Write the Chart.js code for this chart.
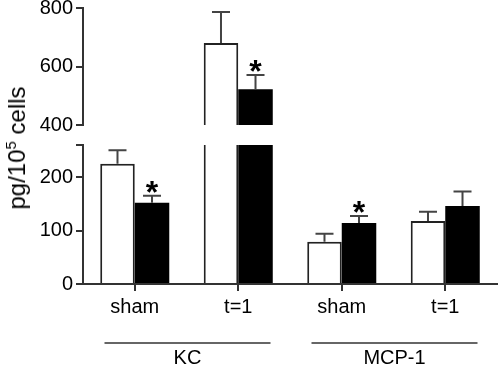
<!DOCTYPE html>
<html>
<head>
<meta charset="utf-8">
<script src="https://cdn.jsdelivr.net/npm/chart.js@4/dist/chart.umd.min.js"></script>
<style>
    body { margin: 0; background: #fff; }
    #wrap { position: relative; width: 498px; height: 365px; overflow: hidden; }
    canvas { position: absolute; left: 0; top: 0; }
    #upperChart { top: -10px; }
    #ytitle {
        position: absolute; left: 17px; top: 148px;
        transform: translate(-50%, -50%) rotate(-90deg);
        font-family: "Liberation Sans", Arial, sans-serif; font-size: 24px;
        white-space: nowrap; color: #000;
    }
    #ytitle sup { font-size: 15px; vertical-align: 9px; line-height: 0; }
</style>
</head>
<body>
<div id="wrap">
    <canvas id="lowerChart" width="498" height="365"></canvas>
    <canvas id="upperChart" width="498" height="150"></canvas>
    <div id="ytitle">pg/10<sup>5</sup> cells</div>
</div>
<script>
// data
const categories = ['sham', 't=1', 'sham', 't=1'];
const groups = ['KC', 'MCP-1'];
const controlValues = [225, 680, 79, 118];
const controlErrors = [25, 106, 15, 17];
const treatedValues = [152, 522, 114, 146];
const treatedErrors = [13, 49, 13, 27];
const treatedStars = [true, true, true, false];
const lowerTicks = [0, 100, 200];
const upperTicks = [400, 600, 800];

const fontFamily = '"Liberation Sans", Arial, sans-serif';
const axisColor = '#333';

// Error bars and asterisks, only where the value falls inside this chart's y range
const errorBarPlugin = {
    id: 'errorBars',
    afterDatasetsDraw(chart) {
        const ctx = chart.ctx;
        const y = chart.scales.y;
        const errs = [controlErrors, treatedErrors];
        ctx.save();
        chart.data.datasets.forEach((ds, di) => {
            const meta = chart.getDatasetMeta(di);
            meta.data.forEach((bar, i) => {
                const v = ds.data[i];
                if (v < y.min || v > y.max) return;
                const top = y.getPixelForValue(v + errs[di][i]);
                const base = y.getPixelForValue(v);
                ctx.strokeStyle = '#444';
                ctx.lineWidth = 2;
                ctx.beginPath();
                ctx.moveTo(bar.x, base);
                ctx.lineTo(bar.x, top);
                ctx.moveTo(bar.x - 9, top);
                ctx.lineTo(bar.x + 9, top);
                ctx.stroke();
                if (di === 1 && treatedStars[i]) {
                    ctx.fillStyle = '#000';
                    ctx.font = 'bold 32px ' + fontFamily;
                    ctx.textAlign = 'center';
                    ctx.textBaseline = 'alphabetic';
                    ctx.fillText('*', bar.x, top + 7);
                }
            });
        });
        ctx.restore();
    }
};

// group lines and labels under the x axis
const groupPlugin = {
    id: 'groupLabels',
    afterDraw(chart) {
        const ctx = chart.ctx;
        const x = chart.scales.x;
        ctx.save();
        groups.forEach((g, gi) => {
            const mid = (x.getPixelForValue(gi * 2) + x.getPixelForValue(gi * 2 + 1)) / 2 + 1;
            ctx.strokeStyle = axisColor;
            ctx.lineWidth = 1.5;
            ctx.beginPath();
            ctx.moveTo(mid - 83, 343);
            ctx.lineTo(mid + 83, 343);
            ctx.stroke();
            ctx.fillStyle = '#000';
            ctx.font = '20px ' + fontFamily;
            ctx.textAlign = 'center';
            ctx.textBaseline = 'middle';
            ctx.fillText(g, mid, 358);
        });
        ctx.restore();
    }
};

function makeDatasets() {
    return [{
        data: controlValues,
        backgroundColor: '#fff',
        borderColor: '#222',
        borderWidth: 2,
        categoryPercentage: 0.667,
        barPercentage: 1,
        clip: 0
    }, {
        data: treatedValues,
        backgroundColor: '#000',
        borderColor: '#000',
        borderWidth: 0,
        categoryPercentage: 0.667,
        barPercentage: 1,
        clip: 0
    }];
}

function makeYScale(min, max, tickList) {
    return {
        min: min,
        max: max,
        afterFit: s => { s.width = 83; },
        afterBuildTicks: s => { s.ticks = tickList.concat(tickList.includes(max) ? [] : [max]).map(v => ({ value: v })); },
        ticks: {
            color: '#000',
            padding: 3,
            font: { family: fontFamily, size: 20 },
            callback: v => tickList.includes(v) ? String(v) : ''
        },
        grid: { drawOnChartArea: false, tickLength: 7, color: axisColor, lineWidth: 2 },
        border: { color: axisColor, width: 2 }
    };
}

new Chart(document.getElementById('lowerChart').getContext('2d'), {
    type: 'bar',
    data: { labels: categories, datasets: makeDatasets() },
    options: {
        responsive: false,
        animation: false,
        layout: { padding: { top: 145, right: 1, left: 0, bottom: 0 } },
        plugins: { legend: { display: false }, tooltip: { enabled: false } },
        scales: {
            x: {
                afterFit: s => { s.height = 81; },
                ticks: { color: '#000', padding: 4, font: { family: fontFamily, size: 20 } },
                grid: { drawOnChartArea: false, offset: false, tickLength: 7, color: axisColor, lineWidth: 2 },
                border: { color: axisColor, width: 2 }
            },
            y: makeYScale(0, 260, lowerTicks)
        }
    },
    plugins: [errorBarPlugin, groupPlugin]
});

new Chart(document.getElementById('upperChart').getContext('2d'), {
    type: 'bar',
    data: { labels: categories, datasets: makeDatasets() },
    options: {
        responsive: false,
        animation: false,
        layout: { padding: { top: 18, right: 1, left: 0, bottom: 15 } },
        plugins: { legend: { display: false }, tooltip: { enabled: false } },
        scales: {
            x: { display: false },
            y: makeYScale(400, 800, upperTicks)
        }
    },
    plugins: [errorBarPlugin]
});
</script>
</body>
</html>
